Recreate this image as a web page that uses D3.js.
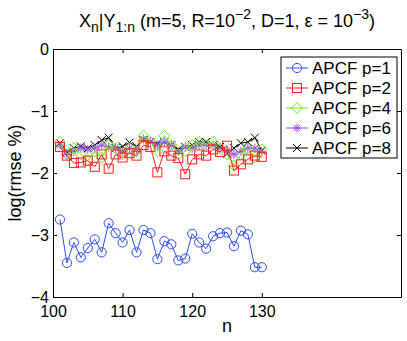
<!DOCTYPE html>
<html>
<head>
<meta charset="utf-8">
<script src="https://cdn.jsdelivr.net/npm/d3@7"></script>
<style>
  body { margin: 0; background: #fff; }
  text { font-family: "Liberation Sans", Arial, sans-serif; }
</style>
</head>
<body>
<div id="chart"></div>
<script>
// Chart size
const width = 407;
const height = 341;
const margin = { top: 49, right: 6, bottom: 44, left: 53 };

// Data
const nValues = d3.range(101, 131);
const p1 = [-2.75, -3.45, -3.12, -3.36, -3.21, -3.07, -3.28, -2.81, -2.97, -3.12,
            -2.92, -3.28, -2.92, -2.97, -3.39, -3.10, -3.15, -3.41, -3.38, -2.98,
            -3.12, -3.22, -3.02, -2.97, -2.96, -3.18, -2.93, -2.99, -3.52, -3.52];
const p2 = [-1.58, -1.72, -1.84, -1.83, -1.80, -1.90, -1.70, -1.93, -1.70, -1.75,
            -1.68, -1.72, -1.55, -1.58, -1.99, -1.65, -1.72, -1.76, -2.02, -1.78,
            -1.70, -1.72, -1.62, -1.66, -1.56, -1.96, -1.86, -1.78, -1.72, -1.74];
const p4 = [-1.50, -1.70, -1.60, -1.70, -1.80, -1.65, -1.75, -1.55, -1.60, -1.70,
            -1.60, -1.65, -1.40, -1.50, -1.65, -1.40, -1.55, -1.70, -1.65, -1.55,
            -1.50, -1.55, -1.50, -1.60, -1.70, -1.88, -1.70, -1.60, -1.75, -1.62];
const p6 = [-1.55, -1.70, -1.65, -1.60, -1.62, -1.60, -1.55, -1.58, -1.60, -1.65,
            -1.60, -1.62, -1.45, -1.50, -1.55, -1.50, -1.55, -1.65, -1.58, -1.60,
            -1.55, -1.55, -1.55, -1.60, -1.65, -1.70, -1.65, -1.60, -1.60, -1.65];
const p8 = [-1.52, -1.66, -1.60, -1.57, -1.60, -1.55, -1.47, -1.43, -1.60, -1.57,
            -1.51, -1.57, -1.47, -1.50, -1.52, -1.50, -1.55, -1.62, -1.58, -1.55,
            -1.50, -1.50, -1.55, -1.58, -1.69, -1.60, -1.52, -1.50, -1.43, -1.64];
const xTicks = [100, 110, 120, 130];
const yTicks = [0, -1, -2, -3, -4];
const seriesLabels = ["APCF p=1", "APCF p=2", "APCF p=4", "APCF p=6", "APCF p=8"];
const seriesColors = ["#2b4cff", "#ff1f1f", "#66ee11", "#a844ff", "#000000"];
const seriesMarkers = ["circle", "square", "diamond", "star", "cross"];

const series = [p1, p2, p4, p6, p8].map((vals, i) => ({
    label: seriesLabels[i],
    color: seriesColors[i],
    marker: seriesMarkers[i],
    values: vals.map((v, j) => ({ n: nValues[j], v: v }))
}));

const svg = d3.select("#chart")
    .append("svg")
    .attr("width", width)
    .attr("height", height);

const x = d3.scaleLinear().domain([100, 150]).range([margin.left, width - margin.right]);
const y = d3.scaleLinear().domain([-4, 0]).range([height - margin.bottom, margin.top]);

const fmt = d => d < 0 ? "\u2212" + Math.abs(d) : String(d);

// Axes (ticks pointing inward, box on all sides)
svg.append("g")
    .attr("transform", `translate(0,${y(-4)})`)
    .call(d3.axisBottom(x).tickValues(xTicks).tickSizeInner(-4).tickSizeOuter(0).tickPadding(9))
    .call(g => g.selectAll("text").attr("font-size", 16).attr("fill", "#000"));
svg.append("g")
    .attr("transform", `translate(0,${y(0)})`)
    .call(d3.axisTop(x).tickValues(xTicks).tickSizeInner(-4).tickSizeOuter(0).tickFormat(""));
svg.append("g")
    .attr("transform", `translate(${x(100)},0)`)
    .call(d3.axisLeft(y).tickValues(yTicks).tickSizeInner(-4).tickSizeOuter(0).tickPadding(4).tickFormat(fmt))
    .call(g => g.selectAll("text").attr("font-size", 16).attr("fill", "#000"));
svg.append("g")
    .attr("transform", `translate(${x(150)},0)`)
    .call(d3.axisRight(y).tickValues(yTicks).tickSizeInner(-4).tickSizeOuter(0).tickFormat(""));
svg.selectAll(".domain").attr("stroke", "#000");
svg.selectAll(".tick line").attr("stroke", "#000");

// Marker shapes
function drawMarker(g, type, color, cx, cy) {
    if (type === "circle") {
        g.append("circle").attr("cx", cx).attr("cy", cy).attr("r", 4.6)
            .attr("fill", "none").attr("stroke", color);
    } else if (type === "square") {
        g.append("rect").attr("x", cx - 4.5).attr("y", cy - 4.5).attr("width", 9).attr("height", 9)
            .attr("fill", "none").attr("stroke", color);
    } else if (type === "diamond") {
        g.append("path").attr("d", `M${cx},${cy - 5.5}L${cx + 5.5},${cy}L${cx},${cy + 5.5}L${cx - 5.5},${cy}Z`)
            .attr("fill", "none").attr("stroke", color);
    } else if (type === "star") {
        const r = 4.5, d = 3.2;
        g.append("path").attr("d", `M${cx - r},${cy}L${cx + r},${cy}M${cx},${cy - r}L${cx},${cy + r}` +
            `M${cx - d},${cy - d}L${cx + d},${cy + d}M${cx - d},${cy + d}L${cx + d},${cy - d}`)
            .attr("stroke", color);
    } else {
        const d = 4;
        g.append("path").attr("d", `M${cx - d},${cy - d}L${cx + d},${cy + d}M${cx - d},${cy + d}L${cx + d},${cy - d}`)
            .attr("stroke", color);
    }
}

const line = d3.line().x(d => x(d.n)).y(d => y(d.v));

// Plot lines and markers, later series on top
series.slice().reverse().forEach(s => {
    const g = svg.append("g");
    g.append("path")
        .datum(s.values)
        .attr("d", line)
        .attr("fill", "none")
        .attr("stroke", s.color)
        .attr("stroke-width", 1);
    s.values.forEach(d => drawMarker(g, s.marker, s.color, x(d.n), y(d.v)));
});

// Legend
const legend = svg.append("g");
legend.append("rect")
    .attr("x", 281).attr("y", 57).attr("width", 116).attr("height", 101)
    .attr("fill", "#fff").attr("stroke", "#000");
series.forEach((s, i) => {
    const ly = 68 + i * 20;
    legend.append("line")
        .attr("x1", 286).attr("x2", 308).attr("y1", ly).attr("y2", ly)
        .attr("stroke", s.color);
    drawMarker(legend, s.marker, s.color, 297, ly);
    legend.append("text")
        .attr("x", 312).attr("y", ly + 6)
        .attr("font-size", 17)
        .text(s.label);
});

// Title
const title = svg.append("text")
    .attr("x", x(100) + (x(150) - x(100)) / 2)
    .attr("y", 27)
    .attr("text-anchor", "middle")
    .attr("font-size", 18);
title.append("tspan").text("X");
title.append("tspan").attr("dy", 5).attr("font-size", 14).text("n");
title.append("tspan").attr("dy", -5).text("|Y");
title.append("tspan").attr("dy", 5).attr("font-size", 14).text("1:n");
title.append("tspan").attr("dy", -5).text(" (m=5, R=10");
title.append("tspan").attr("dy", -8).attr("font-size", 14).text("\u22122");
title.append("tspan").attr("dy", 8).text(", D=1, \u03b5 = 10");
title.append("tspan").attr("dy", -8).attr("font-size", 14).text("\u22123");
title.append("tspan").attr("dy", 8).text(")");

// Axis labels
svg.append("text")
    .attr("x", x(100) + (x(150) - x(100)) / 2)
    .attr("y", 332)
    .attr("text-anchor", "middle")
    .attr("font-size", 18)
    .text("n");
svg.append("text")
    .attr("transform", `translate(21,${y(-2)}) rotate(-90)`)
    .attr("text-anchor", "middle")
    .attr("font-size", 18)
    .text("log(rmse %)");
</script>
</body>
</html>
